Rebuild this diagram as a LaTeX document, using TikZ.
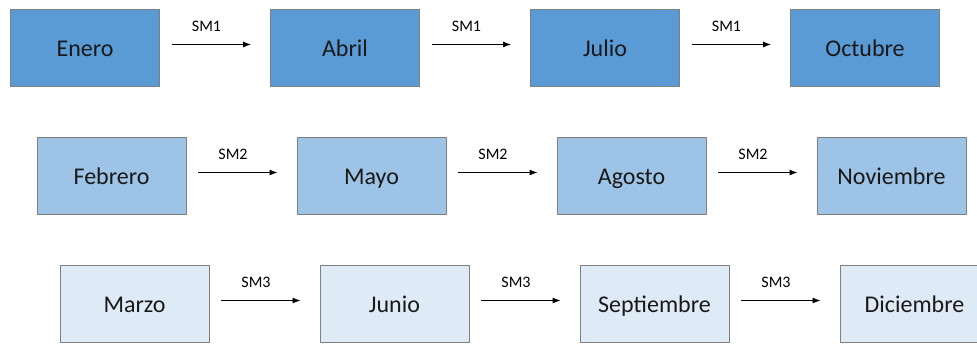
\documentclass[tikz,border=0pt]{standalone}
\usepackage{fontspec}
\setmainfont{Carlito}
\usetikzlibrary{arrows.meta}
\definecolor{rowone}{HTML}{5B9BD5}
\definecolor{rowtwo}{HTML}{9DC3E6}
\definecolor{rowthree}{HTML}{DEEBF7}
\definecolor{boxline}{HTML}{7F7F7F}
\tikzset{
  month/.style={draw=boxline, line width=0.9pt, minimum width=149pt, minimum height=77pt,
    inner sep=0pt, font=\fontsize{24}{28}\selectfont, text=black!90,
    text height=20pt, text depth=3pt},
  link/.style={-{Latex[length=8pt,width=6pt]}, line width=1pt},
  tag/.style={font=\fontsize{16}{19}\selectfont, above=12pt, xshift=-5pt, inner sep=0pt}
}
\begin{document}
\begin{tikzpicture}[x=1pt,y=-1pt]
\useasboundingbox (0,0) rectangle (977,343);
\clip (0,0) rectangle (977,343);
\fill[white] (0,0) rectangle (977,343);
% first row
\node[month, fill=rowone] (ene) at (85,47.5) {Enero};
\node[month, fill=rowone] (abr) at (345,47.5) {Abril};
\node[month, fill=rowone] (jul) at (605,47.5) {Julio};
\node[month, fill=rowone] (oct) at (865,47.5) {Octubre};
% second row
\node[month, fill=rowtwo] (feb) at (111.5,175.5) {Febrero};
\node[month, fill=rowtwo] (may) at (371.5,175.5) {Mayo};
\node[month, fill=rowtwo] (ago) at (631.5,175.5) {Agosto};
\node[month, fill=rowtwo] (nov) at (891.5,175.5) {Noviembre};
% third row
\node[month, fill=rowthree] (mar) at (134.5,303.5) {Marzo};
\node[month, fill=rowthree] (jun) at (394.5,303.5) {Junio};
\node[month, fill=rowthree] (sep) at (654.5,303.5) {Septiembre};
\node[month, fill=rowthree] (dic) at (914.5,303.5) {Diciembre};
% transitions
\foreach \a/\b/\t in {ene/abr/SM1, abr/jul/SM1, jul/oct/SM1,
                       feb/may/SM2, may/ago/SM2, ago/nov/SM2,
                       mar/jun/SM3, jun/sep/SM3, sep/dic/SM3}{
  \draw[link] ([xshift=12pt,yshift=3pt]\a.east) -- node[tag] {\t} ([xshift=-19pt,yshift=3pt]\b.west);
}
\end{tikzpicture}
\end{document}
